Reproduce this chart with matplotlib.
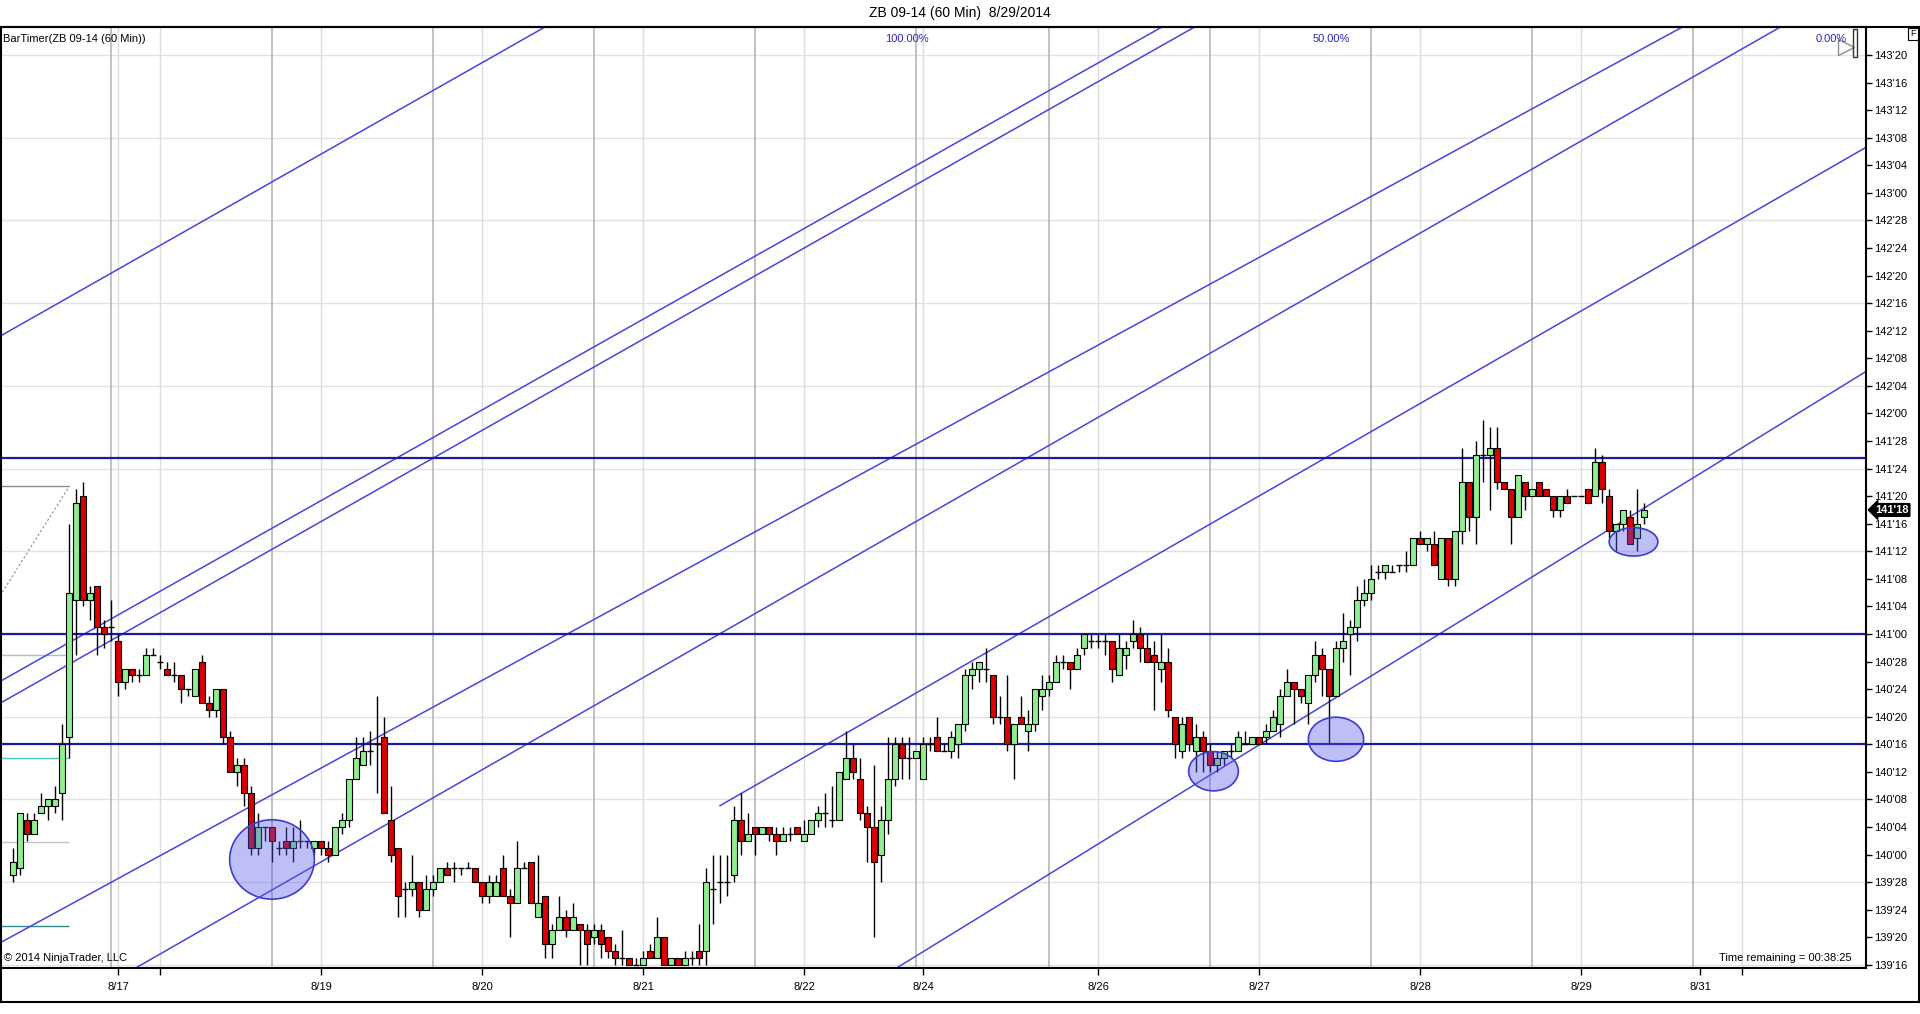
import numpy as np
import matplotlib.pyplot as plt
from matplotlib.patches import Ellipse, Rectangle
import matplotlib.transforms as mtransforms

plt.rcParams['font.family'] = ['Liberation Sans', 'DejaVu Sans']

# ZB 09-14, 60 min bars, bar 0 = first bar on screen (Fri 8/15)
# prices in 32nds above 139'00
opens32 = [29, 30, 37, 35, 38, 39, 39, 41, 49, 69, 84, 69, 71, 65, 65, 63, 57, 59, 58, 58,
           61, 60, 59, 58, 58, 56, 55, 60, 54, 53, 56, 49, 44, 45, 41, 33, 36, 36, 33, 34,
           33, 34, 34, 33, 34, 33, 32, 36, 37, 43, 45, 47, 48, 49, 37, 33, 27, 27, 28, 24,
           27, 28, 30, 30, 30, 30, 30, 28, 26, 26, 30, 26, 25, 30, 31, 23, 26, 19, 21, 23,
           21, 22, 21, 20, 21, 20, 18, 17, 17, 16, 16, 18, 17, 20, 16, 17, 16, 17, 18, 18,
           27, 28, 28, 29, 37, 34, 36, 35, 36, 35, 34, 35, 36, 34, 35, 37, 38, 37, 37, 43,
           46, 43, 38, 36, 32, 37, 43, 48, 46, 46, 43, 48, 49, 47, 47, 48, 51, 58, 59, 59,
           58, 52, 52, 48, 52, 50, 51, 55, 56, 57, 60, 60, 59, 62, 63, 63, 63, 63, 58, 61,
           63, 64, 62, 61, 59, 60, 52, 47, 52, 47, 49, 47, 45, 46, 47, 47, 48, 48, 49, 49,
           50, 51, 55, 57, 56, 54, 58, 61, 59, 55, 62, 64, 65, 69, 70, 73, 73, 73, 74, 74,
           74, 78, 77, 77, 72, 78, 72, 79, 86, 81, 90, 90, 91, 86, 85, 81, 86, 84, 86, 85,
           84, 82, 84, 84, 84, 85, 84, 89, 84, 79, 80, 81, 78, 81]
highs32 = [33, 38, 38, 38, 41, 40, 42, 51, 80, 85, 86, 71, 71, 66, 69, 64, 59, 59, 59, 62,
           62, 61, 60, 60, 58, 56, 59, 61, 55, 56, 56, 50, 46, 46, 42, 38, 36, 36, 34, 36,
           36, 37, 34, 34, 34, 34, 36, 38, 43, 49, 49, 50, 55, 52, 42, 33, 28, 32, 28, 29,
           29, 30, 31, 31, 30, 31, 30, 28, 29, 29, 32, 27, 34, 31, 31, 32, 26, 22, 26, 24,
           25, 22, 22, 22, 22, 20, 19, 21, 17, 17, 18, 19, 23, 20, 17, 17, 18, 18, 22, 30,
           32, 32, 32, 39, 41, 38, 36, 36, 36, 36, 36, 36, 36, 37, 37, 39, 41, 42, 44, 50,
           48, 46, 39, 45, 39, 49, 49, 49, 49, 47, 49, 49, 52, 48, 50, 51, 59, 60, 60, 62,
           58, 55, 58, 51, 55, 53, 56, 58, 58, 61, 61, 60, 62, 64, 64, 64, 64, 63, 64, 63,
           66, 65, 64, 63, 64, 62, 52, 52, 52, 51, 50, 48, 47, 47, 48, 50, 50, 49, 49, 51,
           53, 56, 59, 57, 56, 58, 63, 62, 59, 63, 67, 66, 71, 72, 74, 74, 74, 74, 74, 76,
           78, 79, 78, 79, 78, 78, 79, 91, 86, 92, 95, 94, 94, 86, 85, 87, 86, 85, 86, 85,
           84, 84, 85, 84, 84, 85, 91, 90, 85, 80, 82, 82, 85, 83]
lows32 = [28, 29, 34, 35, 38, 37, 38, 37, 46, 61, 68, 66, 61, 62, 63, 55, 56, 57, 57, 58,
          61, 59, 58, 57, 54, 55, 55, 54, 52, 52, 48, 44, 42, 39, 32, 32, 34, 31, 32, 32,
          31, 33, 33, 32, 32, 31, 32, 35, 36, 43, 45, 45, 41, 38, 31, 23, 23, 26, 23, 24,
          26, 28, 29, 28, 29, 30, 28, 25, 25, 26, 26, 20, 25, 30, 25, 23, 17, 17, 21, 20,
          21, 16, 16, 19, 17, 17, 16, 16, 16, 16, 16, 17, 17, 16, 16, 16, 16, 16, 16, 16,
          22, 25, 26, 28, 32, 34, 32, 35, 34, 32, 34, 34, 35, 34, 35, 36, 36, 36, 37, 43,
          43, 37, 31, 20, 28, 35, 42, 43, 43, 46, 43, 47, 47, 47, 46, 46, 50, 56, 57, 57,
          51, 51, 47, 43, 51, 47, 50, 53, 55, 57, 59, 56, 59, 61, 62, 62, 61, 57, 58, 59,
          62, 60, 60, 53, 57, 52, 46, 46, 47, 44, 44, 44, 44, 45, 46, 47, 48, 48, 48, 48,
          50, 49, 55, 51, 54, 51, 57, 55, 48, 55, 60, 58, 63, 68, 69, 72, 72, 73, 73, 73,
          74, 77, 76, 74, 72, 71, 71, 77, 79, 77, 86, 82, 85, 85, 77, 81, 82, 84, 84, 84,
          81, 81, 83, 84, 84, 83, 84, 83, 78, 76, 79, 77, 76, 80]
closes32 = [31, 38, 35, 37, 39, 40, 40, 48, 70, 83, 69, 70, 65, 64, 65, 57, 59, 58, 58, 61,
            61, 60, 58, 58, 56, 56, 59, 54, 53, 56, 49, 44, 45, 41, 33, 36, 36, 34, 33, 33,
            34, 34, 34, 34, 33, 32, 36, 37, 43, 46, 47, 47, 48, 38, 32, 26, 27, 28, 24, 27,
            28, 30, 29, 30, 30, 30, 28, 26, 28, 28, 26, 25, 30, 30, 25, 25, 19, 21, 23, 21,
            23, 21, 19, 21, 19, 18, 17, 17, 16, 16, 17, 17, 20, 16, 17, 16, 17, 17, 17, 28,
            27, 28, 28, 37, 34, 35, 35, 36, 35, 34, 35, 35, 35, 35, 37, 38, 38, 37, 44, 46,
            44, 38, 36, 31, 37, 43, 48, 46, 46, 47, 48, 48, 47, 47, 49, 51, 58, 59, 60, 59,
            52, 52, 48, 51, 51, 51, 56, 56, 57, 60, 60, 59, 61, 64, 63, 63, 63, 59, 62, 62,
            64, 62, 60, 60, 60, 53, 48, 51, 48, 49, 47, 45, 46, 47, 47, 49, 48, 49, 48, 50,
            52, 55, 57, 56, 55, 58, 61, 59, 55, 62, 63, 65, 69, 70, 72, 73, 74, 73, 74, 74,
            78, 77, 78, 74, 78, 72, 79, 86, 81, 90, 90, 91, 86, 85, 81, 87, 84, 85, 84, 84,
            82, 84, 83, 84, 84, 83, 89, 85, 79, 80, 82, 77, 80, 82]

# time axis (bar index positions)
date_ticks = [15, 44, 67, 90, 113, 130, 155, 178, 201, 224, 241]
date_labels = ['8/17', '8/19', '8/20', '8/21', '8/22', '8/24', '8/26', '8/27', '8/28', '8/29', '8/31']
extra_ticks = [21, 247]
session_lines = [14, 37, 60, 83, 106, 129, 148, 171, 194, 217, 240]
midnight_lines = [15, 21, 44, 67, 90, 113, 130, 155, 178, 201, 224, 247]

# drawings: trend lines as (bar, price) anchor pairs
trend_lines = [
    [(-1.86, 142.35), (76.0, 143.752)],
    [(-1.86, 140.785), (59.96, 141.89)],
    [(-1.86, 140.686), (64.6, 141.88)],
    [(-1.86, 139.60), (209.6, 143.253)],
    [(13.0, 139.404), (209.3, 142.968)],
    [(171.5, 140.37), (264.7, 142.19)],
]
ray_line = [(101.0, 140.222), (152.4, 141.159)]
h_levels = [141.80, 141.0, 140.5]
# ellipses: bar, price, width (bars), height (price)
ellipses = [(37.0, 139.978, 12.1, 0.36),
            (171.5, 140.378, 7.1, 0.178),
            (189.0, 140.523, 7.9, 0.20),
            (231.5, 141.418, 6.95, 0.129)]
# fib retracement remains at the left edge
fib_levels = [141.671, 140.906, 140.437, 140.057, 139.675]
fib_colors = ['#8c8c8c', '#a9bfcf', '#4fc9b8', '#c4c4c4', '#2a8c8c']
fib_x = (-1.86, 8.06)
fib_diag = [(-1.86, 141.173), (8.06, 141.671)]
last_price32 = 82

W, H = 1920, 1014
fig = plt.figure(figsize=(W / 100, H / 100), dpi=100)
ax = fig.add_axes([0, (H - 968) / H, 1866 / W, (968 - 27) / H])

xmin, xmax = -13 / 7, (1866 - 13) / 7
ymin, ymax = 139.486, 143.752
ax.set_xlim(xmin, xmax)
ax.set_ylim(ymin, ymax)

to_price = lambda v: 139 + np.asarray(v, dtype=float) / 32
o, h, l, c = map(to_price, (opens32, highs32, lows32, closes32))
idx = np.arange(len(o))

# grid
for p in np.arange(139.5, 143.7, 0.375):
    ax.axhline(p, color='#e2e2e2', lw=1, zorder=0)
for x in session_lines:
    ax.axvline(x, color='#b0b0b0', lw=1.1, zorder=0)
for x in midnight_lines:
    ax.axvline(x, color='#dcdcdc', lw=1, zorder=0)

# fib pieces
for lev, col in zip(fib_levels, fib_colors):
    ax.hlines(lev, fib_x[0], fib_x[1], color=col, lw=1, zorder=1)
ax.plot(*zip(*fib_diag), color='#8c8c8c', lw=0.8, ls=(0, (2, 2)), zorder=1)

# trend lines
for p1, p2 in trend_lines:
    ax.axline(p1, p2, color='#4646dc', lw=1.1, zorder=2)
(rx0, ry0), (rx1, ry1) = ray_line
slope = (ry1 - ry0) / (rx1 - rx0)
ax.plot([rx0, xmax], [ry0, ry0 + slope * (xmax - rx0)], color='#4646dc', lw=1.1, zorder=2)
for lev in h_levels:
    ax.axhline(lev, color='#1a1aa8', lw=1.6, zorder=2)

# candles
up = c > o
dn = c < o
dj = c == o
ax.vlines(idx, l, h, color='black', lw=1, zorder=3)
ax.bar(idx[up], (c - o)[up], bottom=o[up], width=0.72, color='#90ee90',
       edgecolor='black', lw=0.8, zorder=4)
ax.bar(idx[dn], (o - c)[dn], bottom=c[dn], width=0.72, color='#dc0000',
       edgecolor='black', lw=0.8, zorder=4)
ax.hlines(o[dj], idx[dj] - 0.38, idx[dj] + 0.38, color='black', lw=1, zorder=4)

for ex, ey, ew, eh in ellipses:
    ax.add_patch(Ellipse((ex, ey), ew, eh, facecolor=(0.35, 0.35, 0.92, 0.38),
                         edgecolor='#3c3cd0', lw=1.2, zorder=5))

# axes look
for s in ax.spines.values():
    s.set_color('black')
    s.set_linewidth(1.5)
ax.yaxis.tick_right()
yt = np.arange(139.5, 143.63, 0.125)
ax.set_yticks(yt)
ax.set_yticklabels([f"{int(p)}'{int(round((p - int(p)) * 32)):02d}" for p in yt])
ax.tick_params(axis='y', direction='out', length=4, width=1, labelsize=8, pad=2)
ax.set_xticks(date_ticks)
ax.set_xticklabels(date_labels)
ax.set_xticks(extra_ticks, minor=True)
ax.tick_params(axis='x', which='both', direction='out', length=5, width=1,
               labelsize=8, pad=5)

# last price tag
trans = mtransforms.blended_transform_factory(ax.transAxes, ax.transData)
ax.text(1.0 + 9 / 1866, to_price(last_price32), "141'18", transform=trans,
        ha='left', va='center', color='white', fontsize=8, fontweight='bold',
        bbox=dict(boxstyle='larrow,pad=0.12', fc='black', ec='black'), zorder=6,
        clip_on=False)

# fib time tool end marker (top right)
ax.plot([261.9], [143.661], marker='>', ms=12, mfc='none', mec='#8c8c8c', mew=1, zorder=6)
ax.add_patch(Rectangle((262.9, 143.616), 0.57, 0.127, fill=False, ec='#333333', lw=1, zorder=6))

# texts
fig.text(960 / W, 1 - 13 / H, 'ZB 09-14 (60 Min)  8/29/2014', ha='center', va='center', fontsize=10)
fig.text(3 / W, 1 - 39 / H, 'BarTimer(ZB 09-14 (60 Min))', ha='left', va='center', fontsize=8)
for txt, xp in [('100.00%', 907), ('50.00%', 1331), ('0.00%', 1831)]:
    fig.text(xp / W, 1 - 39 / H, txt, ha='center', va='center', fontsize=8, color='#2828c0')
fig.text(4 / W, 1 - 958 / H, '\u00a9 2014 NinjaTrader, LLC', ha='left', va='center', fontsize=8)
fig.text(1852 / W, 1 - 958 / H, 'Time remaining = 00:38:25', ha='right', va='center', fontsize=8)
fig.text(1913 / W, 1 - 34 / H, 'F', ha='center', va='center', fontsize=6.5,
         bbox=dict(boxstyle='square,pad=0.2', fc='white', ec='black', lw=0.8))

# outer frame
fig.patches.append(Rectangle((0.5 / W, (H - 1002) / H), 1918.5 / W, (1002 - 27) / H,
                             transform=fig.transFigure, fill=False, ec='black', lw=1.5))

fig.savefig('out.png', dpi=100)
